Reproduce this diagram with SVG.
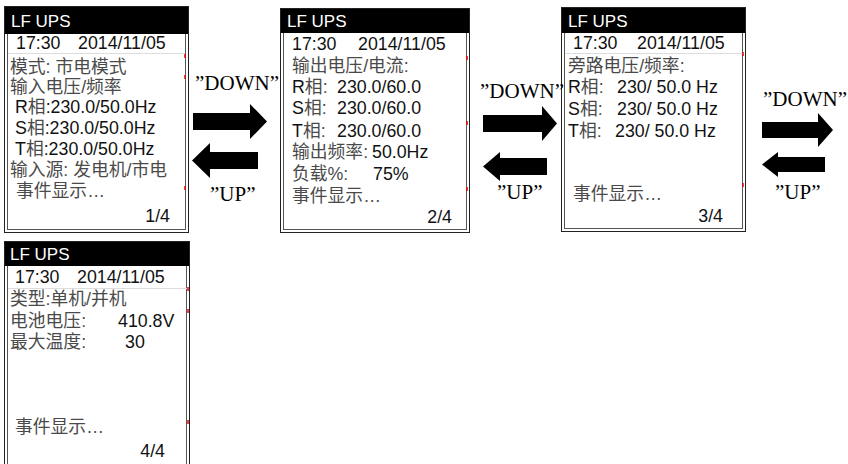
<svg xmlns="http://www.w3.org/2000/svg" width="848" height="464" viewBox="0 0 848 464">
<style>
text{font-family:"Liberation Sans","Noto Sans CJK SC",sans-serif;font-size:17.8px;fill:#111}
.hd{fill:#fff;font-size:17px}
.cn{fill:#4a4a4a}
.end{text-anchor:end}
.frame{fill:#fff;stroke:#222;stroke-width:1}
.inner{fill:none;stroke:#555;stroke-width:1}
.bar{fill:#000}
.div{stroke:#ddd;stroke-width:1}
.red{stroke:#e00;stroke-width:1.5}
.lbl{font-family:"Liberation Serif","Times New Roman",serif;font-size:21px;fill:#000}
.arrow{fill:#000}
</style>
<rect width="848" height="464" fill="#fff"/>

<g id="screen1">
<rect class="frame" x="4.5" y="6.5" width="184" height="226"/>
<rect class="inner" x="7.5" y="9.5" width="178" height="220"/>
<rect class="bar" x="5" y="7" width="183" height="27"/>
<line class="div" x1="8" y1="53.5" x2="185" y2="53.5"/>
<line class="red" x1="185" y1="54" x2="185" y2="58"/>
<line class="red" x1="185" y1="75" x2="185" y2="79"/>
<line class="red" x1="185" y1="186" x2="185" y2="190"/>
<text class="hd" x="11" y="27">LF UPS</text>
<text x="16" y="49">17:30</text>
<text x="78" y="49">2014/11/05</text>
<text class="cn" x="10" y="73">模式: 市电模式</text>
<text class="cn" x="10" y="93">输入电压/频率</text>
<text x="15" y="113">R<tspan class="cn">相</tspan>:230.0/50.0Hz</text>
<text x="15" y="134">S<tspan class="cn">相</tspan>:230.0/50.0Hz</text>
<text x="15" y="155">T<tspan class="cn">相</tspan>:230.0/50.0Hz</text>
<text class="cn" x="10" y="176">输入源: 发电机/市电</text>
<text class="cn" x="16" y="197">事件显示…</text>
<text class="end" x="170" y="222">1/4</text>
</g>

<g id="screen2">
<rect class="frame" x="280.5" y="8.5" width="189" height="224"/>
<rect class="inner" x="283.5" y="11.5" width="183" height="218"/>
<rect class="bar" x="281" y="9" width="188" height="24"/>
<line class="red" x1="467" y1="56" x2="467" y2="60"/>
<line class="red" x1="467" y1="121" x2="467" y2="125"/>
<line class="red" x1="467" y1="187" x2="467" y2="191"/>
<text class="hd" x="287" y="27">LF UPS</text>
<text x="292" y="50">17:30</text>
<text x="358" y="50">2014/11/05</text>
<text class="cn" x="292" y="72">输出电压/电流:</text>
<text x="292" y="93">R<tspan class="cn">相:</tspan></text>
<text x="337" y="93">230.0/60.0</text>
<text x="292" y="114">S<tspan class="cn">相:</tspan></text>
<text x="337" y="114">230.0/60.0</text>
<text x="292" y="137">T<tspan class="cn">相:</tspan></text>
<text x="337" y="137">230.0/60.0</text>
<text class="cn" x="292" y="158">输出频率:</text>
<text x="372" y="158">50.0Hz</text>
<text class="cn" x="292" y="180">负载%:</text>
<text x="373" y="180">75%</text>
<text class="cn" x="292" y="202">事件显示…</text>
<text class="end" x="452" y="223">2/4</text>
</g>

<g id="screen3">
<rect class="frame" x="561.5" y="7.5" width="184" height="224"/>
<rect class="inner" x="564.5" y="10.5" width="178" height="218"/>
<rect class="bar" x="562" y="8" width="183" height="25"/>
<line class="div" x1="565" y1="53.5" x2="743" y2="53.5"/>
<line class="red" x1="743" y1="52" x2="743" y2="56"/>
<line class="red" x1="743" y1="183" x2="743" y2="187"/>
<text class="hd" x="568" y="27">LF UPS</text>
<text x="573" y="49">17:30</text>
<text x="637" y="49">2014/11/05</text>
<text class="cn" x="568" y="72">旁路电压/频率:</text>
<text x="568" y="93">R<tspan class="cn">相:</tspan></text>
<text x="617" y="93">230/ 50.0 Hz</text>
<text x="568" y="115">S<tspan class="cn">相:</tspan></text>
<text x="617" y="115">230/ 50.0 Hz</text>
<text x="568" y="137">T<tspan class="cn">相:</tspan></text>
<text x="615" y="137">230/ 50.0 Hz</text>
<text class="cn" x="573" y="200">事件显示…</text>
<text class="end" x="723" y="222">3/4</text>
</g>

<g id="screen4">
<rect class="frame" x="4.5" y="241.5" width="185" height="240"/>
<rect class="inner" x="7.5" y="244.5" width="179" height="234"/>
<rect class="bar" x="5" y="242" width="184" height="24"/>
<line class="div" x1="8" y1="288.5" x2="187" y2="288.5"/>
<line class="red" x1="188" y1="287" x2="188" y2="291"/>
<line class="red" x1="188" y1="309" x2="188" y2="313"/>
<line class="red" x1="188" y1="420" x2="188" y2="424"/>
<text class="hd" x="10" y="260">LF UPS</text>
<text x="15" y="283">17:30</text>
<text x="77" y="283">2014/11/05</text>
<text class="cn" x="10" y="305">类型:单机/并机</text>
<text class="cn" x="10" y="327">电池电压:</text>
<text x="118" y="327">410.8V</text>
<text class="cn" x="10" y="348">最大温度:</text>
<text x="125" y="348">30</text>
<text class="cn" x="15" y="433">事件显示…</text>
<text class="end" x="165" y="457">4/4</text>
</g>

<g id="connectors">
<polygon class="arrow" points="193,113 250,113 250,104 267,121.5 250,139 250,130 193,130"/>
<polygon class="arrow" points="192,160.5 210,143 210,152 258,152 258,169 210,169 210,178"/>
<text class="lbl" x="195" y="90">”DOWN”</text>
<text class="lbl" x="210" y="201">”UP”</text>

<polygon class="arrow" points="483,115 542,115 542,106 557,123.5 542,141 542,132 483,132"/>
<polygon class="arrow" points="483,166.5 500,152 500,158 547,158 547,175 500,175 500,181"/>
<text class="lbl" x="480" y="98">”DOWN”</text>
<text class="lbl" x="497" y="199">”UP”</text>

<polygon class="arrow" points="762,122 818,122 818,113 833,130 818,147 818,138 762,138"/>
<polygon class="arrow" points="762,164.5 778,152 778,157 825,157 825,172 778,172 778,177"/>
<text class="lbl" x="763" y="106">”DOWN”</text>
<text class="lbl" x="775" y="199">”UP”</text>
</g>
</svg>
